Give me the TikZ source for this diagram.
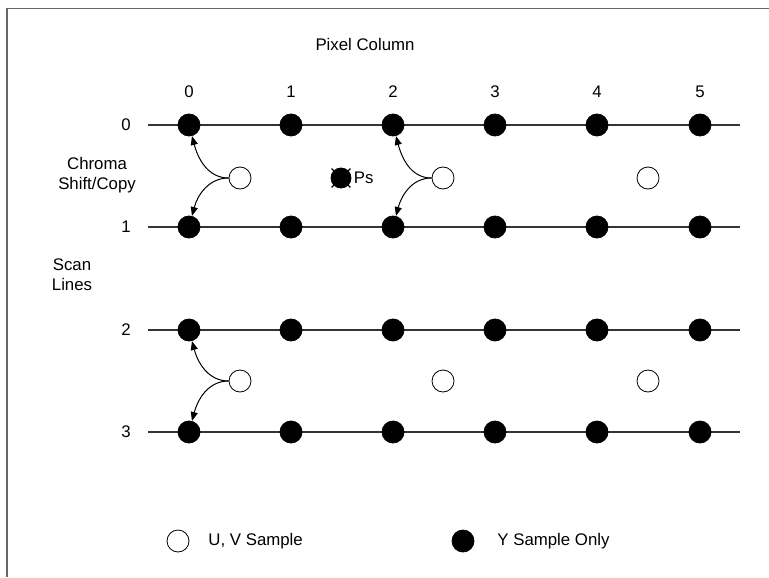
\documentclass[tikz,border=0pt]{standalone}
\usepackage{fontspec}
\setmainfont{Liberation Sans}
\usetikzlibrary{arrows.meta, positioning}

\begin{document}
\begin{tikzpicture}[
        x=0.5pt, y=-0.5pt,
        >={Triangle[length=4.5pt,width=3.5pt]},
        font=\fontsize{8.4}{10}\selectfont,
        ydot/.style={
            circle,
            draw,
            fill=black,
            inner sep=0pt,
            minimum size=11pt
        },
        uvdot/.style={
            circle,
            draw,
            fill=white,
            inner sep=0pt,
            minimum size=11pt
        },
        scan/.style={draw=black!80, line width=0.6pt},
        chromaarrow/.style={->, line width=0.5pt}
    ]

    \useasboundingbox (0,0) rectangle (769,577);
    % partial frame
    \draw[black!60, line width=0.8pt] (7,577) -- (7,8.5) -- (769,8.5);

    \node (title) at (365,44) {Pixel Column};
    \node[align=center] (chroma) at (97,175) {Chroma\\Shift/Copy};
    \node[align=center] (scanlbl) at (72,275) {Scan\\Lines};

    % column labels
    \foreach \c/\x in {0/189,1/291,2/393,3/495,4/597,5/700}
        \node (col\c) at (\x,92) {\c};

    % scan lines with Y samples
    \foreach \r/\y in {0/125,1/227,2/330,3/432} {
        \node (row\r) at (126,\y) {\r};
        \coordinate (ls\r) at (148,\y);
        \coordinate (le\r) at (740,\y);
        \draw[scan] (ls\r) -- (le\r);
        \foreach \c/\x in {0/189,1/291,2/393,3/495,4/597,5/700}
            \node[ydot] (y\r\c) at (\x,\y) {};
    }

    % U, V samples
    \node[uvdot] (uva) at (240,178) {};
    \node[uvdot] (uvb) at (443,178) {};
    \node[uvdot] (uvc) at (648,178) {};
    \node[uvdot] (uvd) at (240,381) {};
    \node[uvdot] (uve) at (443,381) {};
    \node[uvdot] (uvf) at (648,381) {};

    % removed sample
    \node[ydot, minimum size=10pt] (ps) at (341,178) {};
    \node[right=0pt of ps, inner sep=1pt] (pslbl) {Ps};
    \draw[shorten <=-1.5pt, shorten >=-1.5pt, line width=0.6pt] (ps.135) -- (ps.-45);
    \draw[shorten <=-1.5pt, shorten >=-1.5pt, line width=0.6pt] (ps.45) -- (ps.-135);

    % chroma shift / copy
    \draw[chromaarrow] (uva.west) to[out=180, in=-75] (y00);
    \draw[chromaarrow] (uva.west) to[out=180, in=75] (y10);
    \draw[chromaarrow] (uvb.west) to[out=180, in=-75] (y02);
    \draw[chromaarrow] (uvb.west) to[out=180, in=75] (y12);
    \draw[chromaarrow] (uvd.west) to[out=180, in=-75] (y20);
    \draw[chromaarrow] (uvd.west) to[out=180, in=75] (y30);

    % legend
    \node[uvdot] (leguv) at (178,541) {};
    \node[right=6pt of leguv] (leguvlbl) {U, V Sample};
    \node[ydot] (legy) at (463,541) {};
    \node[right=8pt of legy] (legylbl) {Y Sample Only};

\end{tikzpicture}
\end{document}
